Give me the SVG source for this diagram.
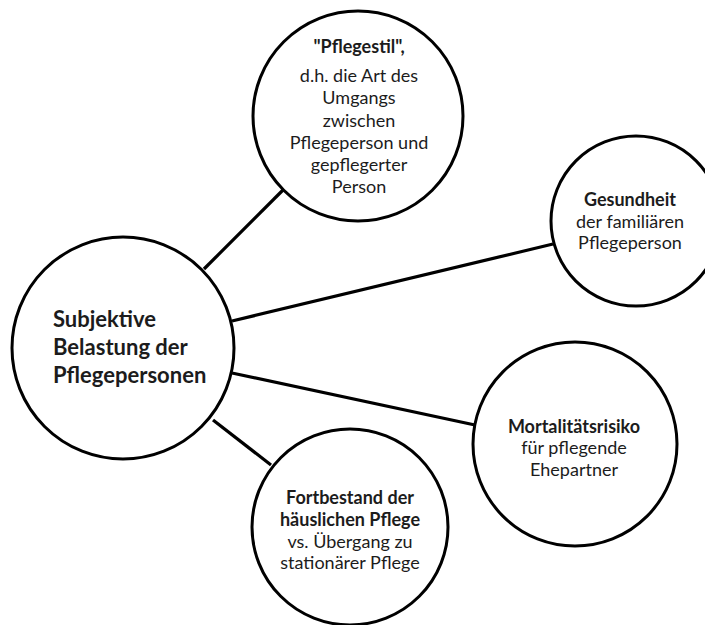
<svg xmlns="http://www.w3.org/2000/svg" width="705" height="625" viewBox="0 0 705 625">
  <style>
    .node { fill: #ffffff; stroke: #000000; stroke-width: 3; }
    .edge { stroke: #000000; stroke-width: 3.2; fill: none; }
    text { font-family: Lato, "Open Sans", "Liberation Sans", sans-serif; fill: #1c1c1c; }
    .c { text-anchor: middle; }
    .b { font-weight: bold; }
    .main { font-size: 22px; font-weight: bold; }
    .t { font-size: 18px; }
  </style>
  <rect width="705" height="625" fill="#ffffff"/>

  <g id="connectors">
    <line class="edge" x1="204" y1="269" x2="283" y2="190"/>
    <line class="edge" x1="232" y1="321" x2="553" y2="244"/>
    <line class="edge" x1="232" y1="373" x2="475" y2="425"/>
    <line class="edge" x1="213" y1="420" x2="271" y2="465"/>
  </g>

  <g id="belastung">
    <circle class="node" cx="123" cy="348" r="111"/>
    <text class="main" x="53" y="327">Subjektive</text>
    <text class="main" x="53" y="355">Belastung der</text>
    <text class="main" x="53" y="383">Pflegepersonen</text>
  </g>

  <g id="pflegestil">
    <circle class="node" cx="358" cy="116" r="105"/>
    <text class="t c b" x="359" y="53">"Pflegestil",</text>
    <text class="t c" x="359" y="82">d.h. die Art des</text>
    <text class="t c" x="359" y="104">Umgangs</text>
    <text class="t c" x="359" y="127">zwischen</text>
    <text class="t c" x="359" y="149">Pflegeperson und</text>
    <text class="t c" x="359" y="171">gepflegerter</text>
    <text class="t c" x="359" y="193">Person</text>
  </g>

  <g id="gesundheit">
    <circle class="node" cx="636" cy="221" r="85"/>
    <text class="t c b" x="630" y="206">Gesundheit</text>
    <text class="t c" x="630" y="228">der familiären</text>
    <text class="t c" x="630" y="249">Pflegeperson</text>
  </g>

  <g id="mortalitaet">
    <circle class="node" cx="575" cy="444" r="102"/>
    <text class="t c b" x="574" y="433">Mortalitätsrisiko</text>
    <text class="t c" x="574" y="454">für pflegende</text>
    <text class="t c" x="574" y="476">Ehepartner</text>
  </g>

  <g id="fortbestand">
    <circle class="node" cx="350" cy="527" r="98"/>
    <text class="t c b" x="350" y="504">Fortbestand der</text>
    <text class="t c b" x="350" y="526">häuslichen Pflege</text>
    <text class="t c" x="350" y="548">vs. Übergang zu</text>
    <text class="t c" x="350" y="569">stationärer Pflege</text>
  </g>
</svg>
